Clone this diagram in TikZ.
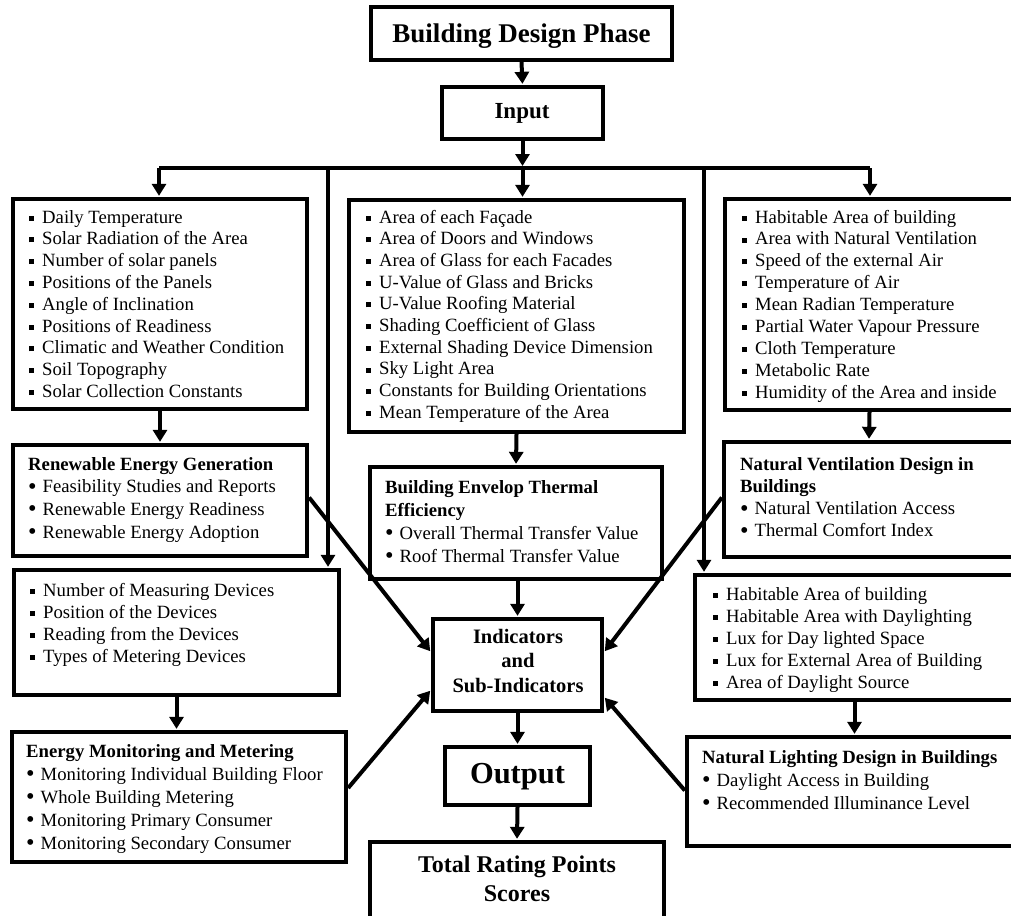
\documentclass[tikz,border=0pt]{standalone}
\usepackage{fontspec}
\setmainfont{Liberation Serif}
\usetikzlibrary{arrows.meta,calc}
\newcommand\sqb{\makebox[13pt][l]{\rule[2.4pt]{5pt}{5pt}}}
\newcommand\rdb{\makebox[14.5pt][l]{\raisebox{-1.5pt}{\scalebox{1.3}{\textbullet}}}}
\begin{document}
\begin{tikzpicture}[x=1pt,y=-1pt,
  box/.style={draw=black, line width=4.3pt, rectangle, inner sep=0pt, fill=white},
  line/.style={draw=black, line width=4pt},
  arr/.style={draw=black, line width=4pt, -{Triangle[length=12pt,width=14pt]}, shorten >=1pt},
  lst/.style={anchor=base west, inner sep=0pt, font=\fontsize{18.7}{#1}\selectfont},
  lst/.default=22,
  ttl/.style={anchor=base, inner sep=0pt, align=center}]
\useasboundingbox (0,0) rectangle (1011,915);
\fill[white] (0,0) rectangle (1011,915);

% boxes
\node[box, minimum width=301pt, minimum height=53pt] (BDP) at (521.5,33.5) {};
\node[box, minimum width=161pt, minimum height=52pt] (INP) at (522.5,113) {};
\node[box, minimum width=294pt, minimum height=210pt] (L1) at (160,304) {};
\node[box, minimum width=294pt, minimum height=111pt] (REG) at (160,500.5) {};
\node[box, minimum width=335pt, minimum height=232pt] (M1) at (516.5,316) {};
\node[box, minimum width=292pt, minimum height=112pt] (BET) at (516,523) {};
\node[box, minimum width=289pt, minimum height=211pt] (R1) at (869.5,304.5) {};
\node[box, minimum width=290pt, minimum height=115pt] (NVD) at (869,499.5) {};
\node[box, minimum width=325pt, minimum height=125pt] (MD) at (176.5,632.5) {};
\node[box, minimum width=334pt, minimum height=130pt] (EMM) at (179,797) {};
\node[box, minimum width=169pt, minimum height=92pt] (IND) at (517.5,665) {};
\node[box, minimum width=145pt, minimum height=58pt] (OUT) at (517.5,776) {};
\node[box, minimum width=294pt, minimum height=76pt] (TOT) at (517,880) {};
\node[box, minimum width=319pt, minimum height=125pt] (DL) at (854.5,637.5) {};
\node[box, minimum width=327pt, minimum height=109pt] (NLD) at (850.5,791.5) {};

% titles
\node[ttl, font=\bfseries\fontsize{27}{30}\selectfont] (BDPt) at (521.5,43) {Building Design Phase};
\node[ttl, font=\bfseries\fontsize{23}{26}\selectfont] (INPt) at (522,118) {Input};
\node[ttl, font=\bfseries\fontsize{20.5}{24.5}\selectfont] (INDt) at (518,643)
  {\begin{tabular}[t]{@{}c@{}}Indicators\\ and\\ Sub-Indicators\end{tabular}};
\node[ttl, font=\bfseries\fontsize{30.5}{34}\selectfont] (OUTt) at (517.5,783) {Output};
\node[ttl, font=\bfseries\fontsize{24}{29}\selectfont] (TOTt) at (517,872)
  {\begin{tabular}[t]{@{}c@{}}Total Rating Points\\ Scores\end{tabular}};

% lists
\node[lst=21.8] (L1t) at (29,223) {\begin{tabular}[t]{@{}l@{}}
\sqb Daily Temperature\\
\sqb Solar Radiation of the Area\\
\sqb Number of solar panels\\
\sqb Positions of the Panels\\
\sqb Angle of Inclination\\
\sqb Positions of Readiness\\
\sqb Climatic and Weather Condition\\
\sqb Soil Topography\\
\sqb Solar Collection Constants
\end{tabular}};
\node[lst=21.7] (M1t) at (366,223) {\begin{tabular}[t]{@{}l@{}}
\sqb Area of each Façade\\
\sqb Area of Doors and Windows\\
\sqb Area of Glass for each Facades\\
\sqb U-Value of Glass and Bricks\\
\sqb U-Value Roofing Material\\
\sqb Shading Coefficient of Glass\\
\sqb External Shading Device Dimension\\
\sqb Sky Light Area\\
\sqb Constants for Building Orientations\\
\sqb Mean Temperature of the Area
\end{tabular}};
\node[lst=21.9] (R1t) at (742,223) {\begin{tabular}[t]{@{}l@{}}
\sqb Habitable Area of building\\
\sqb Area with Natural Ventilation\\
\sqb Speed of the external Air\\
\sqb Temperature of Air\\
\sqb Mean Radian Temperature\\
\sqb Partial Water Vapour Pressure\\
\sqb Cloth Temperature\\
\sqb Metabolic Rate\\
\sqb Humidity of the Area and inside
\end{tabular}};
\node[lst=22.7] (REGt) at (28,470) {\begin{tabular}[t]{@{}l@{}}
\textbf{Renewable Energy Generation}\\
\rdb Feasibility Studies and Reports\\
\rdb Renewable Energy Readiness\\
\rdb Renewable Energy Adoption
\end{tabular}};
\node[lst=23] (BETt) at (385,493) {\begin{tabular}[t]{@{}l@{}}
\textbf{Building Envelop Thermal}\\
\textbf{Efficiency}\\
\rdb Overall Thermal Transfer Value\\
\rdb Roof Thermal Transfer Value
\end{tabular}};
\node[lst=22.3] (NVDt) at (740,470) {\begin{tabular}[t]{@{}l@{}}
\textbf{Natural Ventilation Design in}\\
\textbf{Buildings}\\
\rdb Natural Ventilation Access\\
\rdb Thermal Comfort Index
\end{tabular}};
\node[lst=22] (MDt) at (30,596) {\begin{tabular}[t]{@{}l@{}}
\sqb Number of Measuring Devices\\
\sqb Position of the Devices\\
\sqb Reading from the Devices\\
\sqb Types of Metering Devices
\end{tabular}};
\node[lst=23] (EMMt) at (26,757) {\begin{tabular}[t]{@{}l@{}}
\textbf{Energy Monitoring and Metering}\\
\rdb Monitoring Individual Building Floor\\
\rdb Whole Building Metering\\
\rdb Monitoring Primary Consumer\\
\rdb Monitoring Secondary Consumer
\end{tabular}};
\node[lst=22] (DLt) at (713,600) {\begin{tabular}[t]{@{}l@{}}
\sqb Habitable Area of building\\
\sqb Habitable Area with Daylighting\\
\sqb Lux for Day lighted Space\\
\sqb Lux for External Area of Building\\
\sqb Area of Daylight Source
\end{tabular}};
\node[lst=23] (NLDt) at (702,763) {\begin{tabular}[t]{@{}l@{}}
\textbf{Natural Lighting Design in Buildings}\\
\rdb Daylight Access in Building\\
\rdb Recommended Illuminance Level
\end{tabular}};

% bus
\coordinate (bl) at (159,168);
\coordinate (bm) at (522.5,168);
\coordinate (br) at (870,168);
\coordinate (v1) at (328,168);
\coordinate (v2) at (704,168);
\draw[line] (bl) -- (br);

% connectors
\draw[arr] (BDP.south) -- (INP.north);
\draw[arr, shorten >=2pt] (INP.south) -- (bm);
\draw[arr] (bl) -- (bl |- L1.north);
\draw[arr] (bm) -- (bm |- M1.north);
\draw[arr] (br) -- (br |- R1.north);
\draw[arr] (v1) -- (v1 |- MD.north);
\draw[arr] (v2) -- (v2 |- DL.north);
\draw[arr] (L1.south) -- (REG.north);
\draw[arr] (M1.south) -- (BET.north);
\draw[arr] (R1.south) -- (NVD.north);
\draw[arr] (MD.south) -- (MD.south |- EMM.north);
\draw[arr] (DL.south) -- (DL.south |- NLD.north);
\draw[arr] (IND.north |- BET.south) -- (IND.north);
\draw[arr] (IND.south) -- (OUT.north);
\draw[arr] (OUT.south) -- (TOT.north);
\draw[arr] ($(REG.east)+(0,-3)$) -- ($(IND.west)+(0,-13)$);
\draw[arr] ($(EMM.east)+(0,-9)$) -- ($(IND.west)+(0,25)$);
\draw[arr] ($(NVD.west)+(0,-2)$) -- ($(IND.east)+(0,-13)$);
\draw[arr] ($(NLD.west)+(0,-1)$) -- ($(IND.east)+(0,32)$);
\end{tikzpicture}
\end{document}
